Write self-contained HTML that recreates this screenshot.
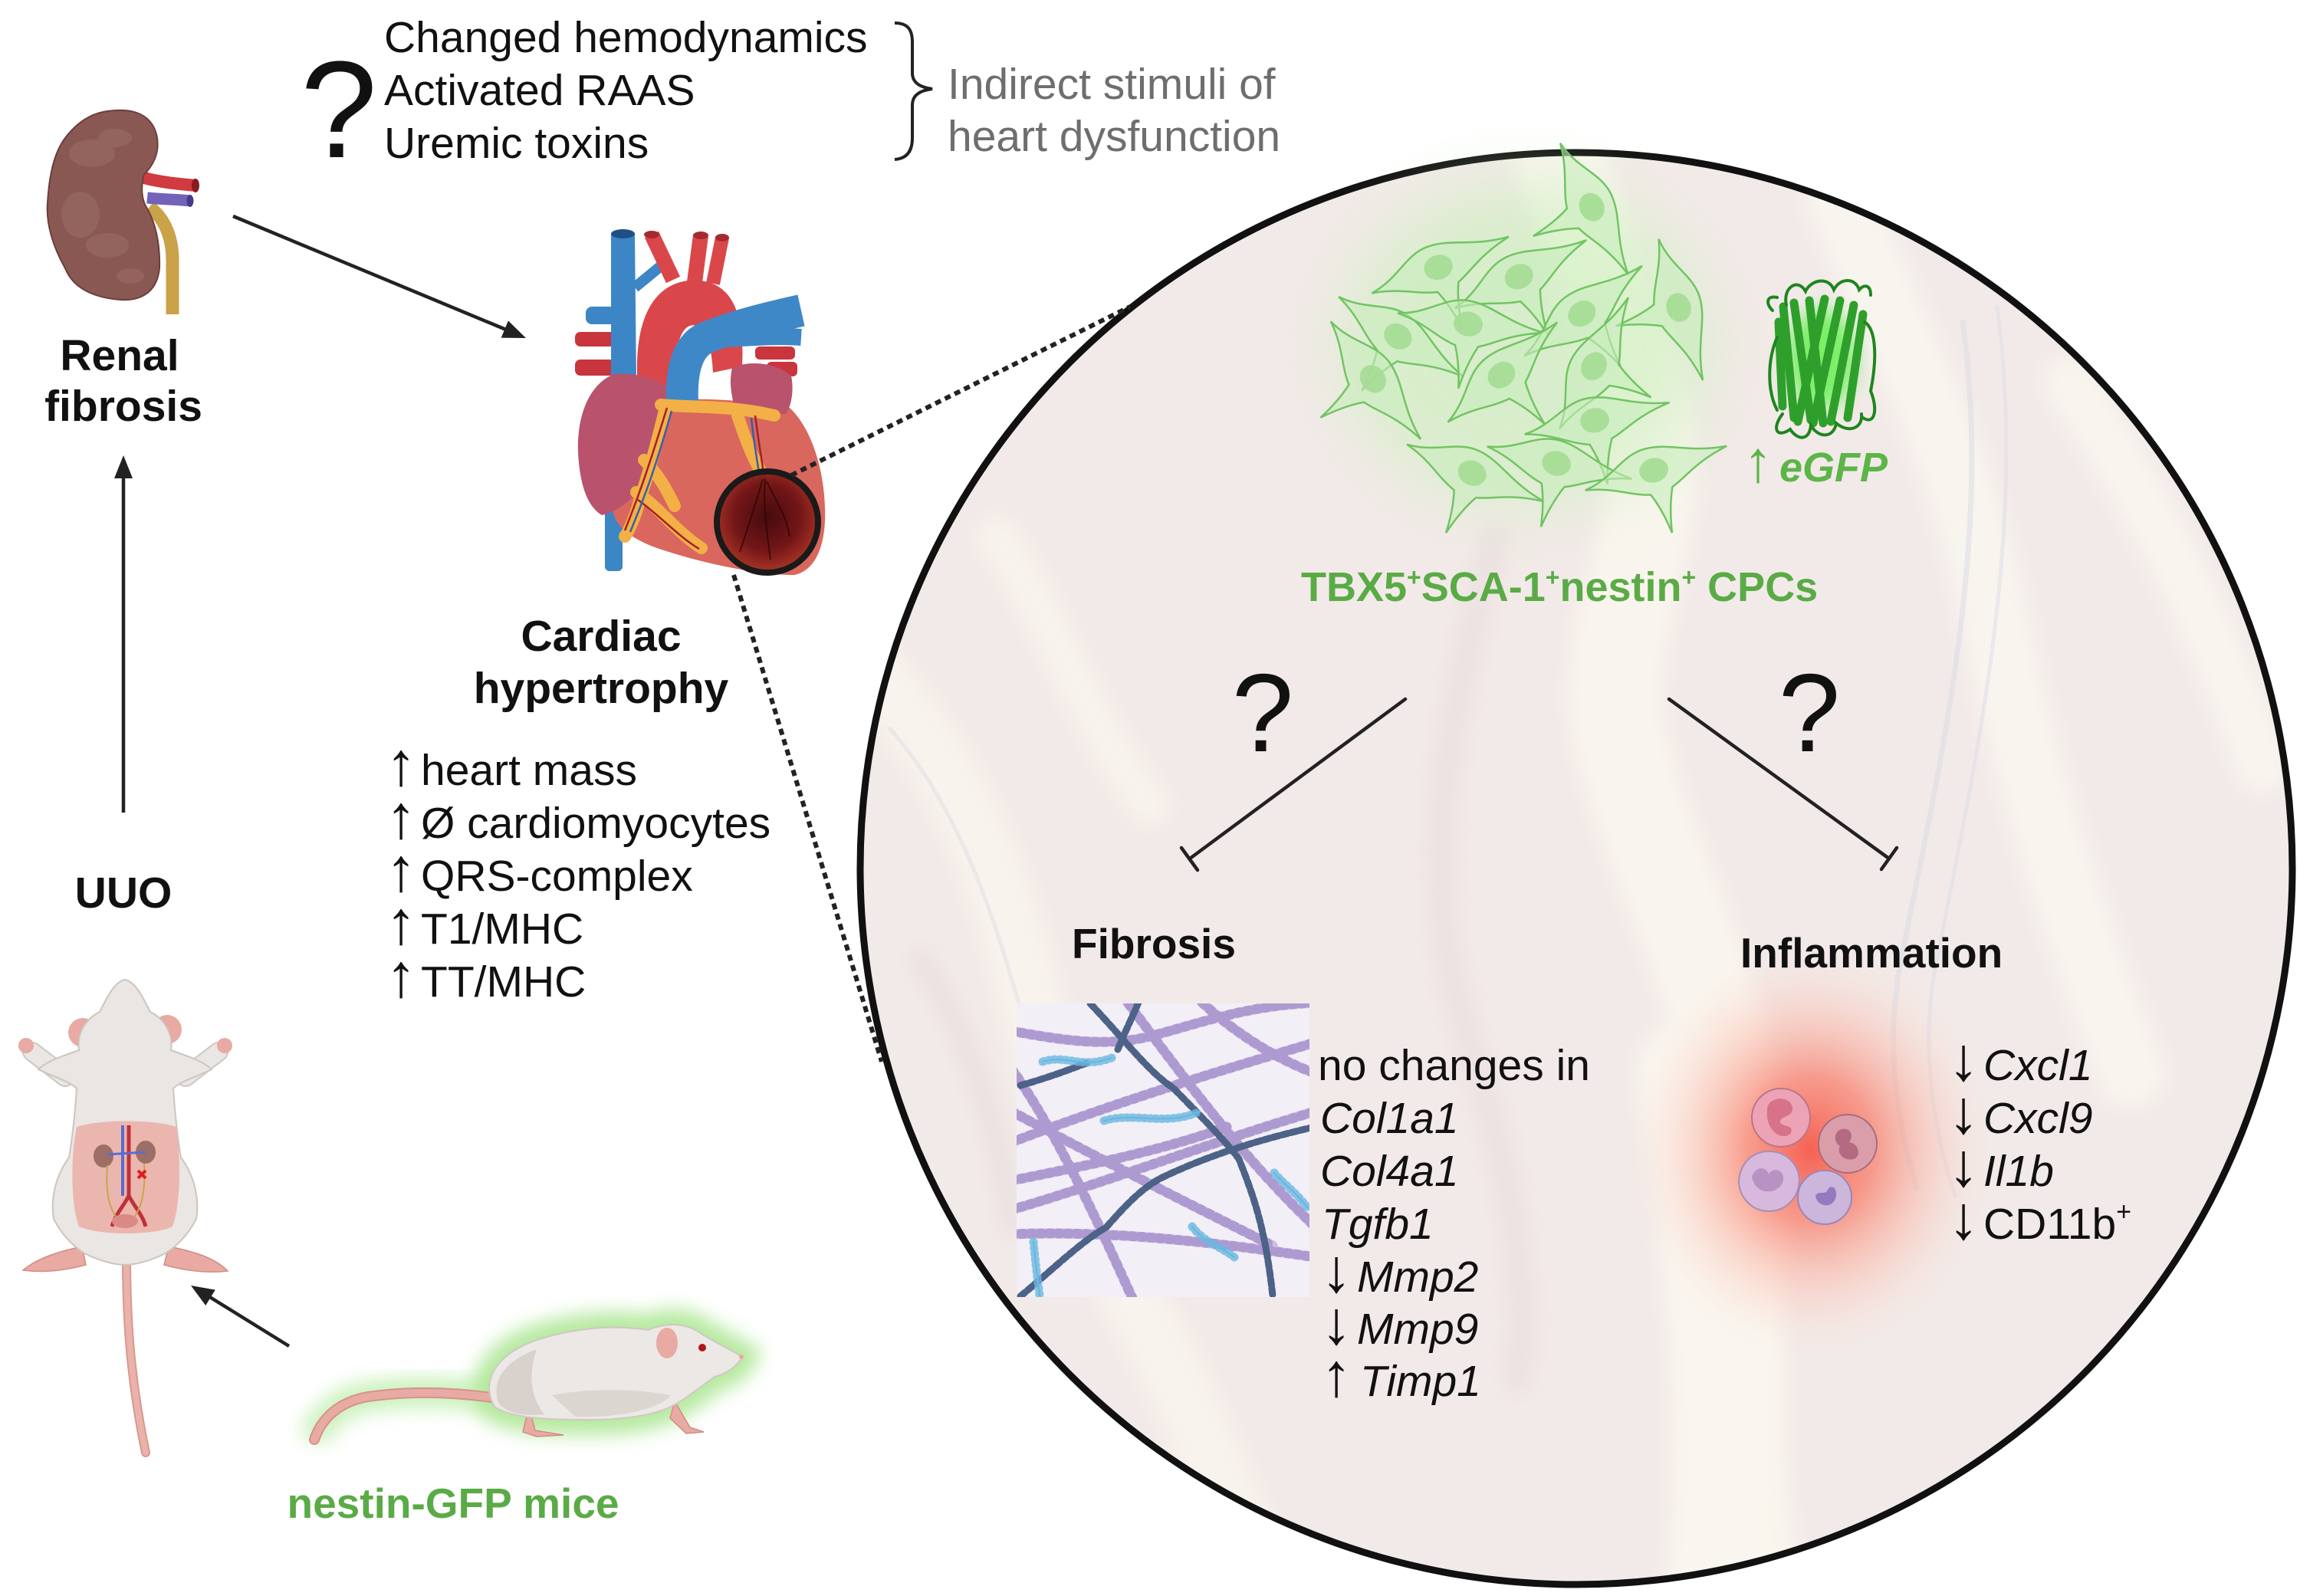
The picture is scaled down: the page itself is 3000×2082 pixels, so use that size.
<!DOCTYPE html>
<html><head><meta charset="utf-8">
<style>
html,body{margin:0;padding:0;background:#fff;}
svg{display:block;}
text{font-family:"Liberation Sans",Arial,sans-serif;}
.ar{font-size:80px;}
</style></head><body>
<svg width="3000" height="2082" viewBox="0 0 3000 2082" xmlns="http://www.w3.org/2000/svg">
<defs>
  <filter id="b6" x="-50%" y="-50%" width="200%" height="200%"><feGaussianBlur stdDeviation="6"/></filter>
  <filter id="b12" x="-50%" y="-50%" width="200%" height="200%"><feGaussianBlur stdDeviation="12"/></filter>
  <filter id="b30" x="-50%" y="-50%" width="200%" height="200%"><feGaussianBlur stdDeviation="30"/></filter>
  <filter id="b45" x="-50%" y="-50%" width="200%" height="200%"><feGaussianBlur stdDeviation="45"/></filter>
  <clipPath id="cc"><circle cx="2056" cy="1133" r="930"/></clipPath>
  <clipPath id="fibclip"><rect x="1326" y="1309" width="382" height="383"/></clipPath>
  <radialGradient id="mag" cx="50%" cy="45%" r="55%">
    <stop offset="0" stop-color="#3d0609"/>
    <stop offset="0.6" stop-color="#6e1214"/>
    <stop offset="1" stop-color="#a83223"/>
  </radialGradient>
  <radialGradient id="infl" cx="50%" cy="50%" r="50%">
    <stop offset="0" stop-color="#f65a4a" stop-opacity="0.95"/>
    <stop offset="0.35" stop-color="#f8806e" stop-opacity="0.75"/>
    <stop offset="0.7" stop-color="#fbb8a8" stop-opacity="0.35"/>
    <stop offset="1" stop-color="#fbe0d8" stop-opacity="0"/>
  </radialGradient>
  <g id="cell">
    <path d="M-95,2 C-55,-4 -38,-30 -6,-30 C26,-30 48,-10 98,-6 C52,4 36,20 16,27 C8,45 3,65 0,85 C-3,62 -8,44 -14,30 C-40,24 -58,8 -95,2 Z" fill="#c8ecbd" fill-opacity="0.6" stroke="#72c463" stroke-width="2.5"/>
    <ellipse cx="-2" cy="0" rx="19" ry="16" fill="#a4dc93" fill-opacity="0.9"/>
  </g>
</defs>

<rect width="3000" height="2082" fill="#fff"/>

<!-- ===== Big circle ===== -->
<circle cx="2056" cy="1133" r="934" fill="#f2eae8"/>
<g clip-path="url(#cc)">
  <g filter="url(#b12)" fill="none" stroke-linecap="round">
    <path d="M2030,190 C2060,300 2120,420 2150,560 C2170,700 2090,820 2110,950 C2140,1100 2230,1250 2260,1420 C2290,1600 2240,1800 2290,2080" stroke="#f9f5ee" stroke-width="120"/>
    <path d="M1140,880 C1230,980 1290,1100 1330,1250 C1370,1400 1400,1550 1480,1700 C1540,1800 1600,1950 1640,2050" stroke="#f8f3ec" stroke-width="80"/>
    <path d="M1300,700 C1380,820 1420,950 1500,1050" stroke="#f8f3ec" stroke-width="50"/>
    <path d="M2400,260 C2480,450 2560,600 2600,800 C2640,1000 2700,1200 2780,1400" stroke="#f8f4ee" stroke-width="90"/>
    <path d="M2700,500 C2800,650 2880,800 2950,1000" stroke="#f8f4ee" stroke-width="70"/>
    <path d="M1950,700 C1900,900 1850,1100 1900,1300 C1940,1450 2000,1600 1980,1800" stroke="#e9dedd" stroke-width="40" opacity="0.6"/>
    <path d="M2200,1400 C2230,1600 2260,1800 2240,2060" stroke="#f9f6ef" stroke-width="130"/>
    <path d="M1200,1250 C1260,1350 1300,1450 1320,1600" stroke="#e6dcdc" stroke-width="30" opacity="0.6"/>
  </g>
  <g fill="none" stroke-linecap="round" opacity="0.5">
    <path d="M2560,420 C2600,700 2530,1000 2480,1250 C2460,1350 2470,1450 2500,1550" stroke="#d9dbe6" stroke-width="7"/>
    <path d="M2605,400 C2645,700 2575,1000 2525,1260 C2505,1360 2520,1470 2550,1560" stroke="#dcdde7" stroke-width="5"/>
    <path d="M1160,950 C1250,1050 1300,1200 1340,1350" stroke="#dcdde6" stroke-width="5"/>
  </g>
</g>
<circle cx="2056" cy="1133" r="934" fill="none" stroke="#111" stroke-width="9"/>

<!-- ===== Green cells ===== -->
<ellipse cx="1990" cy="450" rx="240" ry="210" fill="#c8f0b8" opacity="0.6" filter="url(#b45)"/>
<g>
  <use href="#cell" transform="translate(2077,272) rotate(65)"/>
  <use href="#cell" transform="translate(1878,348) rotate(-20)"/>
  <use href="#cell" transform="translate(1983,360) rotate(-25)"/>
  <use href="#cell" transform="translate(1825,440) rotate(35)"/>
  <use href="#cell" transform="translate(1917,423) rotate(10)"/>
  <use href="#cell" transform="translate(2065,408) rotate(-35)"/>
  <use href="#cell" transform="translate(2190,403) rotate(75)"/>
  <use href="#cell" transform="translate(1792,496) rotate(55)"/>
  <use href="#cell" transform="translate(1960,488) rotate(-40)"/>
  <use href="#cell" transform="translate(2080,476) rotate(-60)"/>
  <use href="#cell" transform="translate(2082,548) rotate(-10)"/>
  <use href="#cell" transform="translate(2032,605) rotate(15)"/>
  <use href="#cell" transform="translate(1922,618) rotate(25)"/>
  <use href="#cell" transform="translate(2159,613) rotate(-15)"/>
</g>

<!-- ===== GFP protein ===== -->
<g>
  <ellipse cx="2376" cy="468" rx="45" ry="65" fill="#5ef04a" opacity="0.8" filter="url(#b12)"/>
  <g stroke="#2f9f2c" stroke-width="11" stroke-linecap="round" fill="none">
    <path d="M2326,400 L2340,545"/>
    <path d="M2340,395 L2362,548"/>
    <path d="M2360,392 L2378,552"/>
    <path d="M2380,390 L2345,550"/>
    <path d="M2400,392 L2365,552"/>
    <path d="M2418,398 L2388,550"/>
    <path d="M2430,410 L2410,545"/>
    <path d="M2320,420 L2325,530"/>
  </g>
  <g stroke="#1f851e" stroke-width="4" fill="none" stroke-linecap="round">
    <path d="M2330,398 C2325,375 2345,362 2355,380 C2362,365 2385,360 2392,378 C2400,362 2420,362 2425,378 C2432,370 2440,372 2440,385"/>
    <path d="M2312,405 C2302,395 2305,385 2318,388"/>
    <path d="M2325,540 C2310,560 2318,572 2335,560 C2345,575 2360,575 2362,555 C2372,572 2392,572 2395,552 C2410,565 2430,560 2428,540"/>
    <path d="M2432,420 C2448,430 2448,470 2440,510 C2450,535 2445,555 2430,545"/>
    <path d="M2318,440 C2305,470 2305,510 2318,535"/>
  </g>
</g>

<!-- ===== Fibrosis image ===== -->
<rect x="1326" y="1309" width="382" height="383" fill="#f2eff7"/>
<g clip-path="url(#fibclip)" fill="none" stroke-linecap="round">
  <g stroke="#cdbde5" stroke-width="13">
    <path d="M1320,1345 C1400,1360 1450,1365 1504,1351 C1580,1330 1630,1312 1715,1308"/>
    <path d="M1320,1395 C1380,1480 1430,1590 1480,1700"/>
    <path d="M1320,1490 C1450,1440 1580,1400 1715,1360"/>
    <path d="M1320,1578 C1450,1540 1580,1490 1715,1450"/>
    <path d="M1320,1610 C1450,1605 1580,1620 1715,1640"/>
    <path d="M1465,1300 C1540,1400 1620,1510 1715,1600"/>
    <path d="M1320,1450 C1430,1510 1550,1570 1660,1625"/>
    <path d="M1560,1300 C1600,1340 1660,1380 1715,1400"/>
    <path d="M1320,1540 C1420,1520 1520,1500 1600,1470"/>
  </g>
  <g stroke="#9d88c5" stroke-width="13" stroke-dasharray="3 9" opacity="0.65">
    <path d="M1320,1345 C1400,1360 1450,1365 1504,1351 C1580,1330 1630,1312 1715,1308"/>
    <path d="M1320,1395 C1380,1480 1430,1590 1480,1700"/>
    <path d="M1320,1490 C1450,1440 1580,1400 1715,1360"/>
    <path d="M1320,1578 C1450,1540 1580,1490 1715,1450"/>
    <path d="M1320,1610 C1450,1605 1580,1620 1715,1640"/>
    <path d="M1465,1300 C1540,1400 1620,1510 1715,1600"/>
    <path d="M1320,1450 C1430,1510 1550,1570 1660,1625"/>
    <path d="M1560,1300 C1600,1340 1660,1380 1715,1400"/>
    <path d="M1320,1540 C1420,1520 1520,1500 1600,1470"/>
  </g>
  <g stroke="#4d6287" stroke-width="9" stroke-dasharray="8 4">
    <path d="M1422,1309 C1470,1360 1500,1400 1530,1419 C1570,1460 1600,1490 1616,1512 C1635,1560 1650,1600 1660,1690"/>
    <path d="M1331,1691 C1380,1650 1410,1620 1443,1601 C1470,1570 1490,1550 1514,1537 C1580,1505 1650,1485 1715,1470"/>
    <path d="M1331,1416 C1370,1405 1395,1395 1417,1387"/>
    <path d="M1458,1369 C1470,1340 1478,1325 1486,1305"/>
  </g>
  <g stroke="#6ab8e0" stroke-width="2.5">
    <path d="M1360,1385 C1390,1375 1410,1395 1450,1380"/>
    <path d="M1440,1462 C1480,1450 1520,1470 1565,1450"/>
    <path d="M1555,1600 C1570,1620 1590,1625 1610,1640"/>
    <path d="M1662,1530 C1675,1545 1690,1555 1705,1575"/>
    <path d="M1348,1620 C1350,1640 1352,1660 1356,1690"/>
  </g>
  <g stroke="#6ab8e0" stroke-width="11" stroke-dasharray="1.5 6" opacity="0.8">
    <path d="M1360,1385 C1390,1375 1410,1395 1450,1380"/>
    <path d="M1440,1462 C1480,1450 1520,1470 1565,1450"/>
    <path d="M1555,1600 C1570,1620 1590,1625 1610,1640"/>
    <path d="M1662,1530 C1675,1545 1690,1555 1705,1575"/>
    <path d="M1348,1620 C1350,1640 1352,1660 1356,1690"/>
  </g>
</g>

<!-- ===== Inflammation ===== -->
<ellipse cx="2362" cy="1500" rx="240" ry="270" fill="url(#infl)"/>
<g stroke-width="2">
  <circle cx="2323" cy="1458" r="38" fill="#eca3b6" stroke="#b97489"/>
  <path d="M2305,1448 C2305,1430 2335,1428 2338,1445 C2340,1458 2320,1455 2322,1465 C2328,1470 2340,1468 2336,1478 C2325,1490 2302,1475 2305,1448 Z" fill="#d67389"/>
  <circle cx="2410" cy="1492" r="38" fill="#d99eaa" stroke="#a86b7c"/>
  <path d="M2398,1475 C2410,1468 2420,1478 2412,1490 C2425,1492 2428,1508 2418,1512 C2405,1515 2395,1505 2400,1495 C2392,1490 2392,1480 2398,1475 Z" fill="#b46a82"/>
  <path d="M2268,1540 C2270,1518 2285,1502 2307,1502 C2330,1502 2346,1518 2347,1540 C2346,1562 2330,1580 2307,1580 C2285,1580 2268,1562 2268,1540 Z" fill="#d6b9dc" stroke="#a98db4"/>
  <path d="M2285,1535 C2290,1520 2305,1522 2307,1532 C2312,1522 2328,1525 2326,1540 C2322,1558 2290,1562 2285,1535 Z" fill="#b992c4"/>
  <circle cx="2380" cy="1562" r="35" fill="#cdb6dc" stroke="#9c85b6"/>
  <path d="M2368,1560 C2370,1575 2392,1578 2395,1560 C2396,1548 2388,1545 2384,1552 C2380,1560 2372,1552 2368,1560 Z" fill="#957ac0"/>
</g>

<!-- ===== Inhibition lines ===== -->
<g stroke="#222" stroke-width="4.5" fill="none" stroke-linecap="round">
  <path d="M1833,912 L1552,1120"/>
  <path d="M1541,1106 L1562,1135"/>
  <path d="M2177,912 L2464,1120"/>
  <path d="M2454,1134 L2474,1106"/>
</g>

<!-- ===== Kidney ===== -->
<g>
  <path d="M195,270 C215,285 225,310 225,340 L225,410" stroke="#c9a24a" stroke-width="17" fill="none"/>
  <path d="M188,232 C210,238 235,240 255,242" stroke="#d03a40" stroke-width="16" fill="none"/>
  <ellipse cx="255" cy="242" rx="5" ry="9" fill="#8a1a20"/>
  <path d="M192,258 C210,260 230,260 248,262" stroke="#7262ba" stroke-width="15" fill="none"/>
  <ellipse cx="248" cy="262" rx="4.5" ry="8" fill="#453a8a"/>
  <path d="M140,145 C175,140 200,150 205,180 C208,200 200,215 188,228 C183,245 185,262 192,272 C202,290 209,315 208,350 C205,380 185,393 157,391 C120,388 95,375 85,350 C68,320 60,290 62,265 C64,230 70,200 85,180 C100,160 118,148 140,145 Z" fill="#8a5853" stroke="#6b3f3b" stroke-width="2"/>
  <g fill="#a0716a" opacity="0.45">
    <ellipse cx="120" cy="200" rx="30" ry="18"/>
    <ellipse cx="150" cy="180" rx="22" ry="12"/>
    <ellipse cx="105" cy="280" rx="25" ry="30"/>
    <ellipse cx="140" cy="320" rx="28" ry="16"/>
    <ellipse cx="170" cy="360" rx="18" ry="10"/>
  </g>
</g>

<!-- ===== Heart ===== -->
<g>
  <rect x="764" y="400" width="40" height="23" rx="8" fill="#3d86c6"/>
  <rect x="750" y="433" width="52" height="19" rx="7" fill="#c8353d"/>
  <rect x="750" y="469" width="52" height="21" rx="7" fill="#c8353d"/>
  <rect x="985" y="452" width="52" height="17" rx="6" fill="#c8353d"/>
  <rect x="1000" y="472" width="40" height="19" rx="6" fill="#c8353d"/>
  <path d="M797,305 L828,305 L830,500 L797,500 Z" fill="#3d86c6"/>
  <ellipse cx="812.5" cy="305" rx="15.5" ry="6" fill="#1f4f85"/>
  <path d="M828,375 L862,347" stroke="#3d86c6" stroke-width="14"/>
  <path d="M850,306 L878,365" stroke="#d9474b" stroke-width="20"/>
  <ellipse cx="850" cy="306" rx="10" ry="5" fill="#a52a30"/>
  <path d="M914,307 L906,368" stroke="#d9474b" stroke-width="20"/>
  <ellipse cx="914" cy="307" rx="10" ry="5" fill="#a52a30"/>
  <path d="M942,310 L930,370" stroke="#d9474b" stroke-width="18"/>
  <ellipse cx="942" cy="310" rx="9" ry="5" fill="#a52a30"/>
  <path d="M832,505 C826,430 845,372 898,366 C950,362 972,400 968,478 L930,486 C928,440 915,420 900,425 C885,430 880,460 880,505 Z" fill="#d9474b"/>
  <rect x="789" y="640" width="23" height="105" rx="6" fill="#3d86c6"/>
  <path d="M830,530 C880,515 960,520 1030,532 C1060,560 1078,620 1076,680 C1074,720 1060,745 1036,750 C990,750 920,736 860,716 C830,706 805,690 800,670 C805,630 815,570 830,530 Z" fill="#d9675d"/>
  <path d="M801,488 C770,500 752,540 754,590 C756,630 765,660 785,672 C805,668 830,650 845,620 C860,590 875,550 878,510 C860,495 830,485 801,488 Z" fill="#b9536d"/>
  <path d="M955,480 C975,470 1010,472 1032,490 C1036,510 1032,530 1025,540 L960,540 C955,520 950,500 955,480 Z" fill="#b9536d"/>
  <path d="M890,525 C888,480 898,450 922,440 C960,425 1000,415 1045,405" stroke="#3f88c8" stroke-width="42" fill="none"/>
  <path d="M950,442 C985,440 1015,438 1045,440" stroke="#3f88c8" stroke-width="22" fill="none"/>
  <g stroke="#f2b046" stroke-width="16" fill="none" stroke-linecap="round" stroke-linejoin="round">
    <path d="M862,528 C900,532 950,528 1010,542"/>
    <path d="M868,532 C858,572 848,612 835,650 C830,670 822,690 815,700"/>
    <path d="M962,542 C972,572 982,600 1000,628"/>
    <path d="M830,642 C860,662 880,692 915,715"/>
    <path d="M840,600 C860,620 870,640 880,660"/>
  </g>
  <g stroke="#a3202a" stroke-width="2.5" fill="none">
    <path d="M870,532 C855,580 840,630 815,692"/>
    <path d="M985,542 C990,580 995,610 1000,642"/>
    <path d="M832,652 C860,672 885,700 912,716"/>
  </g>
  <g stroke="#3a5fa8" stroke-width="2.5" fill="none">
    <path d="M876,536 C862,585 848,632 822,694"/>
    <path d="M980,545 C984,585 990,612 994,645"/>
  </g>
  <circle cx="1001" cy="681" r="66" fill="url(#mag)" opacity="0.95"/>
  <g stroke="#2a0406" stroke-width="2" fill="none" opacity="0.7">
    <path d="M995,625 C985,660 975,690 965,720"/>
    <path d="M998,625 C995,660 1000,690 1005,730"/>
    <path d="M1000,628 C1010,650 1025,670 1030,700"/>
  </g>
  <circle cx="1001" cy="681" r="66" fill="none" stroke="#1a1a1a" stroke-width="8"/>
</g>

<!-- ===== Dotted lines ===== -->
<g stroke="#222" stroke-width="6" stroke-dasharray="8 6" fill="none">
  <line x1="1032" y1="620" x2="1474" y2="400"/>
  <line x1="957" y1="750" x2="1150" y2="1385"/>
</g>

<!-- ===== Arrows ===== -->
<g stroke="#222" stroke-width="4.5" fill="#222">
  <line x1="304" y1="282" x2="660" y2="430"/>
  <polygon points="686,441 653.7,440.6 662.9,418.4" stroke="none"/>
  <line x1="161" y1="1060" x2="161" y2="620"/>
  <polygon points="161,594 149,624 173,624" stroke="none"/>
  <line x1="377" y1="1756" x2="272" y2="1691"/>
  <polygon points="249,1677 280.8,1682.6 268.2,1703" stroke="none"/>
</g>

<!-- ===== UUO mouse ===== -->
<g>
  <path d="M165,1640 C165,1720 170,1800 190,1895" stroke="#d99890" stroke-width="12" fill="none" stroke-linecap="round"/>
  <path d="M165,1640 C165,1720 170,1800 190,1895" stroke="#e9b2ab" stroke-width="8" fill="none" stroke-linecap="round"/>
  <path d="M107,1626 C80,1632 50,1640 30,1657 C60,1661 90,1656 112,1650 Z" fill="#e8aaa2" stroke="#d08c85" stroke-width="1.5"/>
  <path d="M220,1626 C250,1632 280,1640 297,1658 C268,1662 235,1656 214,1650 Z" fill="#e8aaa2" stroke="#d08c85" stroke-width="1.5"/>
  <path d="M85,1405 L42,1372" stroke="#cfc8c1" stroke-width="26" stroke-linecap="round"/>
  <path d="M242,1405 L285,1372" stroke="#cfc8c1" stroke-width="26" stroke-linecap="round"/>
  <path d="M85,1405 L42,1372" stroke="#e9e6e3" stroke-width="22" stroke-linecap="round"/>
  <path d="M242,1405 L285,1372" stroke="#e9e6e3" stroke-width="22" stroke-linecap="round"/>
  <circle cx="34" cy="1364" r="10" fill="#e8aaa2"/>
  <circle cx="293" cy="1364" r="10" fill="#e8aaa2"/>
  <circle cx="108" cy="1347" r="19" fill="#e8aaa2"/>
  <circle cx="218" cy="1343" r="19" fill="#e8aaa2"/>
  <path d="M163,1278 C150,1280 140,1300 130,1320 C110,1330 100,1350 103,1370 C80,1378 60,1385 50,1395 C70,1405 90,1410 100,1420 C98,1450 95,1480 90,1510 C75,1530 65,1560 70,1590 C80,1610 95,1625 110,1635 C130,1645 150,1650 163,1650 C176,1650 196,1645 216,1635 C231,1625 246,1610 256,1590 C261,1560 251,1530 236,1510 C231,1480 228,1450 226,1420 C236,1410 256,1405 276,1395 C266,1385 246,1378 223,1370 C226,1350 216,1330 196,1320 C186,1300 176,1280 163,1278 Z" fill="#e9e6e3" stroke="#cdc5be" stroke-width="2"/>
  <path d="M100,1470 C130,1460 200,1460 230,1470 C236,1510 236,1570 225,1600 C200,1612 130,1612 103,1600 C92,1570 92,1510 100,1470 Z" fill="#ebb6ae"/>
  <ellipse cx="135" cy="1508" rx="13" ry="15" fill="#9d6e66"/>
  <ellipse cx="190" cy="1503" rx="13" ry="15" fill="#9d6e66"/>
  <path d="M168,1468 L168,1560 C160,1575 150,1585 146,1600 M168,1560 C176,1575 186,1585 190,1600" stroke="#c0303a" stroke-width="5" fill="none"/>
  <path d="M160,1468 L160,1560" stroke="#5b6bd0" stroke-width="4" fill="none"/>
  <path d="M140,1506 L190,1503" stroke="#5b6bd0" stroke-width="3" fill="none"/>
  <path d="M140,1520 C138,1550 140,1575 155,1592 M188,1518 C190,1550 186,1575 172,1592" stroke="#c8a64a" stroke-width="2" fill="none"/>
  <ellipse cx="163" cy="1593" rx="17" ry="9" fill="#d98a85"/>
  <path d="M180,1527 L190,1537 M190,1527 L180,1537" stroke="#e01e1e" stroke-width="4"/>
</g>

<!-- ===== Nestin-GFP mouse ===== -->
<g>
  <path d="M645,1835 C625,1800 650,1765 700,1748 C750,1732 800,1728 845,1735 C870,1725 895,1725 915,1740 C935,1752 955,1762 968,1770 C962,1782 948,1792 932,1796 C915,1808 895,1825 875,1835 C850,1848 800,1853 760,1852 C715,1852 665,1850 645,1835 Z" fill="#a8e88f" stroke="#9de27f" stroke-width="40" opacity="0.75" filter="url(#b12)"/>
  <path d="M641,1823 C580,1815 530,1815 480,1822 C445,1828 420,1848 410,1878" stroke="#a8e88f" stroke-width="40" fill="none" opacity="0.6" filter="url(#b12)"/>
  <path d="M641,1823 C580,1815 530,1815 480,1822 C445,1828 420,1848 410,1878" stroke="#d6928b" stroke-width="14" fill="none" stroke-linecap="round"/>
  <path d="M641,1823 C580,1815 530,1815 480,1822 C445,1828 420,1848 410,1878" stroke="#e8aba4" stroke-width="10" fill="none" stroke-linecap="round"/>
  <path d="M690,1835 L698,1866 L735,1872 L700,1874 L682,1868 Z" fill="#e8aaa2" stroke="#d08c85" stroke-width="1.5"/>
  <path d="M880,1828 L900,1862 L918,1868 L895,1870 L874,1850 Z" fill="#e8aaa2" stroke="#d08c85" stroke-width="1.5"/>
  <path d="M645,1835 C625,1800 650,1765 700,1748 C750,1732 800,1728 845,1735 C870,1725 895,1725 915,1740 C935,1752 955,1762 968,1770 C962,1782 948,1792 932,1796 C915,1808 895,1825 875,1835 C850,1848 800,1853 760,1852 C715,1852 665,1850 645,1835 Z" fill="#ebe8e5" stroke="#cfc8c1" stroke-width="2"/>
  <path d="M650,1830 C640,1800 660,1775 700,1760 C690,1790 690,1820 710,1845 C680,1848 660,1843 650,1830 Z" fill="#d9d2cc"/>
  <path d="M720,1820 C770,1810 830,1812 875,1820 C860,1840 800,1850 750,1848 Z" fill="#dcd6d1"/>
  <ellipse cx="870" cy="1752" rx="14" ry="20" fill="#e8aaa2"/>
  <circle cx="916" cy="1758" r="5" fill="#b3121a"/>
  <circle cx="967" cy="1770" r="3" fill="#e8aaa2"/>
</g>

<!-- ===== Brace ===== -->
<path d="M1167,30 C1185,30 1190,40 1190,55 L1190,95 C1190,108 1200,114 1216,116 C1200,118 1190,124 1190,137 L1190,180 C1190,198 1182,207 1167,208" stroke="#222" stroke-width="4" fill="none"/>

<!-- ===== Text ===== -->
<g font-size="57" fill="#111">
  <text x="501" y="68">Changed hemodynamics</text>
  <text x="501" y="137">Activated RAAS</text>
  <text x="501" y="206">Uremic toxins</text>
</g>
<text x="442" y="205" font-size="180" text-anchor="middle" fill="#111">?</text>
<g font-size="57" fill="#6e6e6e">
  <text x="1236" y="129">Indirect stimuli of</text>
  <text x="1236" y="197">heart dysfunction</text>
</g>

<g font-size="57" font-weight="700" fill="#111" text-anchor="middle">
  <text x="156" y="483">Renal</text>
  <text x="161" y="549">fibrosis</text>
  <text x="161" y="1184">UUO</text>
  <text x="784" y="849">Cardiac</text>
  <text x="784" y="917">hypertrophy</text>
</g>

<g font-size="57" fill="#111">
  <text x="503" y="1024" class="ar">↑</text><text x="549" y="1024">heart mass</text>
  <text x="503" y="1093" class="ar">↑</text><text x="549" y="1093">Ø cardiomyocytes</text>
  <text x="503" y="1162" class="ar">↑</text><text x="549" y="1162">QRS-complex</text>
  <text x="503" y="1231" class="ar">↑</text><text x="549" y="1231">T1/MHC</text>
  <text x="503" y="1300" class="ar">↑</text><text x="549" y="1300">TT/MHC</text>
</g>

<text x="591" y="1980" font-size="55" font-weight="700" fill="#5aab46" text-anchor="middle">nestin-GFP mice</text>

<text x="1697" y="784" font-size="54" font-weight="700" fill="#5aab46">TBX5<tspan font-size="32" dy="-20">+</tspan><tspan dy="20">SCA-1</tspan><tspan font-size="32" dy="-20">+</tspan><tspan dy="20">nestin</tspan><tspan font-size="32" dy="-20">+</tspan><tspan dy="20"> CPCs</tspan></text>

<text x="2274" y="628" font-size="76" font-weight="700" fill="#5db548">↑</text>
<text x="2321" y="628" font-size="54" font-weight="700" font-style="italic" fill="#5db548">eGFP</text>

<g font-size="145" fill="#111" text-anchor="middle">
  <text x="1647" y="980">?</text>
  <text x="2360" y="980">?</text>
</g>

<g font-size="55" font-weight="700" fill="#111">
  <text x="1398" y="1250">Fibrosis</text>
  <text x="2270" y="1262">Inflammation</text>
</g>

<g font-size="57" fill="#111">
  <text x="1719" y="1409">no changes in</text>
  <text x="1722" y="1478" font-style="italic">Col1a1</text>
  <text x="1722" y="1547" font-style="italic">Col4a1</text>
  <text x="1724" y="1616" font-style="italic">Tgfb1</text>
  <text x="1723" y="1685" class="ar">↓</text><text x="1770" y="1685" font-style="italic">Mmp2</text>
  <text x="1723" y="1753" class="ar">↓</text><text x="1770" y="1753" font-style="italic">Mmp9</text>
  <text x="1723" y="1821" class="ar">↑</text><text x="1774" y="1821" font-style="italic">Timp1</text>

  <text x="2541" y="1409" class="ar">↓</text><text x="2587" y="1409" font-style="italic">Cxcl1</text>
  <text x="2541" y="1478" class="ar">↓</text><text x="2587" y="1478" font-style="italic">Cxcl9</text>
  <text x="2541" y="1547" class="ar">↓</text><text x="2587" y="1547" font-style="italic">Il1b</text>
  <text x="2541" y="1616" class="ar">↓</text><text x="2587" y="1616">CD11b<tspan font-size="34" dy="-24">+</tspan></text>
</g>

</svg>
</body></html>
